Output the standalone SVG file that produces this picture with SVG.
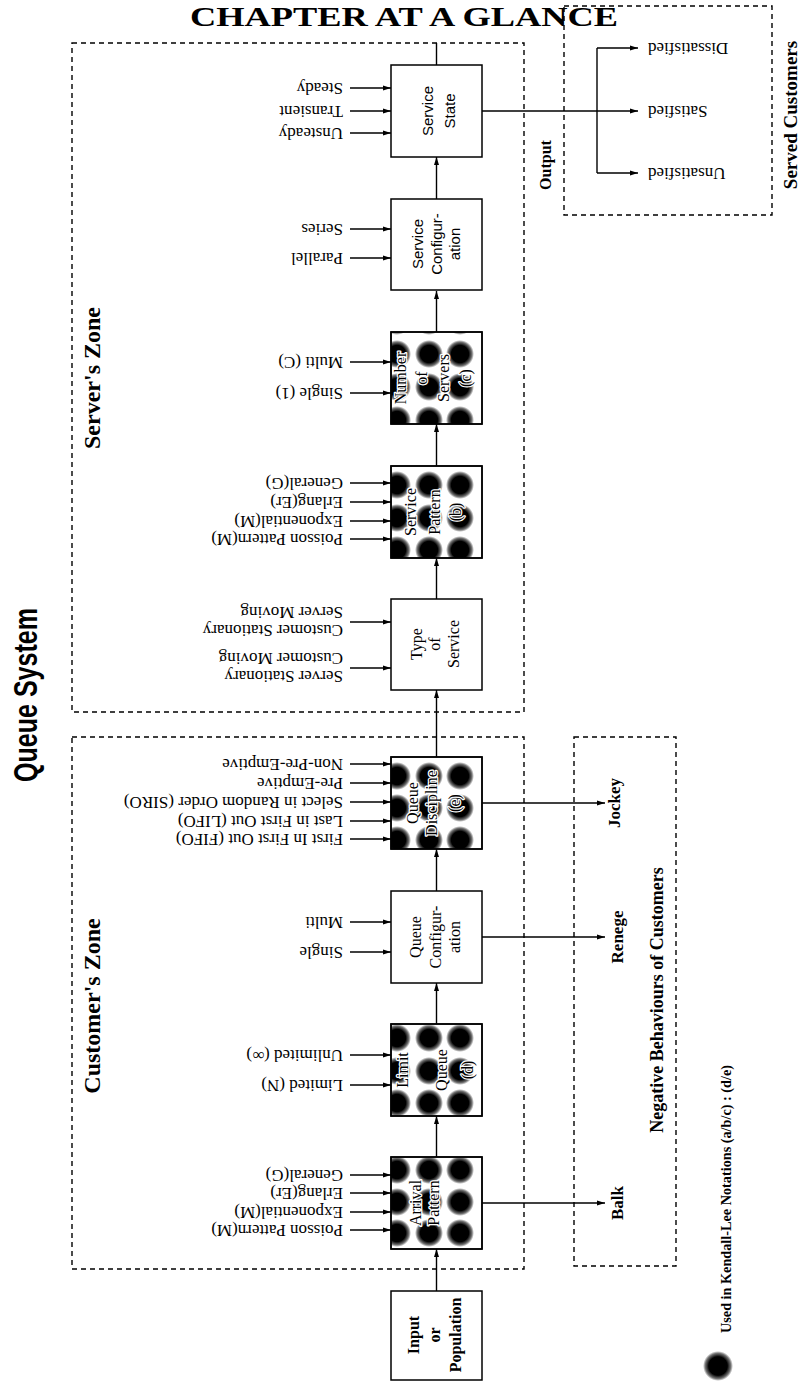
<svg xmlns="http://www.w3.org/2000/svg" width="800" height="1383" viewBox="0 0 800 1383">
<style>
.box{fill:#fff;stroke:#000;stroke-width:1.5}
.zone{fill:none;stroke:#000;stroke-width:1.4;stroke-dasharray:5,4}
.ln{fill:none;stroke:#000;stroke-width:1.4}
.arr{fill:none;stroke:#000;stroke-width:1.4;marker-end:url(#ah)}
.opt{font-family:"Liberation Serif",serif;font-size:17px;fill:#000;dominant-baseline:central}
.nl{font-family:"Liberation Serif",serif;font-size:16px;fill:#000;text-anchor:middle}
.nls{font-family:"Liberation Sans",Arial,sans-serif;font-size:15px;fill:#000;text-anchor:middle}
.nlb{font-family:"Liberation Serif",serif;font-size:16px;font-weight:bold;fill:#000;text-anchor:middle}
.halo{stroke:#fff;stroke-width:2.5;paint-order:stroke;stroke-linejoin:round}
.zt{font-family:"Liberation Serif",serif;font-size:24px;font-weight:bold;fill:#000;text-anchor:middle}
.bt{font-family:"Liberation Serif",serif;font-size:17px;font-weight:bold;fill:#000;text-anchor:middle}
.blob{fill:url(#blob)}
</style>
<defs>
<marker id="ah" markerWidth="8" markerHeight="6" refX="8" refY="3" orient="auto" markerUnits="userSpaceOnUse"><path d="M0,0.5 L8,3 L0,5.5 Z" fill="#000"/></marker>
<radialGradient id="blob"><stop offset="0" stop-color="#000"/><stop offset="0.62" stop-color="#000"/><stop offset="0.85" stop-color="#000" stop-opacity="0.55"/><stop offset="1" stop-color="#000" stop-opacity="0"/></radialGradient>
<clipPath id="cp-arr"><rect x="391" y="1157" width="91" height="92"/></clipPath>
<clipPath id="cp-lq"><rect x="391" y="1024" width="91" height="92"/></clipPath>
<clipPath id="cp-qd"><rect x="391" y="757" width="91" height="92"/></clipPath>
<clipPath id="cp-sp"><rect x="391" y="466" width="91" height="92"/></clipPath>
<clipPath id="cp-ns"><rect x="391" y="332" width="91" height="92"/></clipPath>
</defs>
<rect width="800" height="1383" fill="#fff"/>

<!-- title -->
<text x="190" y="26" font-family="Liberation Serif,serif" font-size="28" font-weight="bold" textLength="428" lengthAdjust="spacingAndGlyphs">CHAPTER AT A GLANCE</text>
<text transform="translate(37,695) rotate(-90)" font-family="Liberation Sans,Arial,sans-serif" font-size="33" font-weight="bold" text-anchor="middle" textLength="174" lengthAdjust="spacingAndGlyphs">Queue System</text>

<!-- zones -->
<g id="zone-server"><rect class="zone" x="72" y="43" width="452" height="669"/><text class="zt" transform="translate(100,378) rotate(-90)">Server's Zone</text></g>
<g id="zone-customer"><rect class="zone" x="72" y="737" width="452" height="532"/><text class="zt" transform="translate(100,1006) rotate(-90)">Customer's Zone</text></g>
<g id="zone-negative"><rect class="zone" x="574" y="737" width="102" height="529"/><text transform="translate(663,1000) rotate(-90)" font-family="Liberation Serif,serif" font-size="18" font-weight="bold" text-anchor="middle">Negative Behaviours of Customers</text></g>
<g id="zone-served"><rect class="zone" x="564" y="6" width="208" height="209"/><text transform="translate(797,115) rotate(-90)" font-family="Liberation Serif,serif" font-size="19" font-weight="bold" text-anchor="middle">Served Customers</text></g>
<text transform="translate(551,165) rotate(-90)" font-family="Liberation Serif,serif" font-size="16" font-weight="bold" text-anchor="middle">Output</text>

<!-- connectors -->
<g id="connectors">
<line class="arr" x1="436.5" y1="1291" x2="436.5" y2="1249"/>
<line class="arr" x1="436.5" y1="1157" x2="436.5" y2="1116"/>
<line class="arr" x1="436.5" y1="1024" x2="436.5" y2="983"/>
<line class="arr" x1="436.5" y1="891" x2="436.5" y2="849"/>
<line class="arr" x1="436.5" y1="757" x2="436.5" y2="690"/>
<line class="arr" x1="436.5" y1="599" x2="436.5" y2="558"/>
<line class="arr" x1="436.5" y1="466" x2="436.5" y2="424"/>
<line class="arr" x1="436.5" y1="332" x2="436.5" y2="291"/>
<line class="arr" x1="436.5" y1="199" x2="436.5" y2="157"/>
<line class="ln" x1="436.5" y1="65" x2="436.5" y2="43"/>
<line class="arr" x1="350" y1="88" x2="391" y2="88"/>
<line class="arr" x1="350" y1="111" x2="391" y2="111"/>
<line class="arr" x1="350" y1="133" x2="391" y2="133"/>
<line class="arr" x1="350" y1="229" x2="391" y2="229"/>
<line class="arr" x1="350" y1="258" x2="391" y2="258"/>
<line class="arr" x1="350" y1="362" x2="391" y2="362"/>
<line class="arr" x1="350" y1="393" x2="391" y2="393"/>
<line class="arr" x1="350" y1="483" x2="391" y2="483"/>
<line class="arr" x1="350" y1="502" x2="391" y2="502"/>
<line class="arr" x1="350" y1="521" x2="391" y2="521"/>
<line class="arr" x1="350" y1="539" x2="391" y2="539"/>
<line class="arr" x1="350" y1="622" x2="391" y2="622"/>
<line class="arr" x1="350" y1="668" x2="391" y2="668"/>
<line class="arr" x1="350" y1="764" x2="391" y2="764"/>
<line class="arr" x1="350" y1="783" x2="391" y2="783"/>
<line class="arr" x1="350" y1="802" x2="391" y2="802"/>
<line class="arr" x1="350" y1="821" x2="391" y2="821"/>
<line class="arr" x1="350" y1="839" x2="391" y2="839"/>
<line class="arr" x1="350" y1="922" x2="391" y2="922"/>
<line class="arr" x1="350" y1="952" x2="391" y2="952"/>
<line class="arr" x1="350" y1="1055" x2="391" y2="1055"/>
<line class="arr" x1="350" y1="1085" x2="391" y2="1085"/>
<line class="arr" x1="350" y1="1175" x2="391" y2="1175"/>
<line class="arr" x1="350" y1="1193" x2="391" y2="1193"/>
<line class="arr" x1="350" y1="1212" x2="391" y2="1212"/>
<line class="arr" x1="350" y1="1230" x2="391" y2="1230"/>
<line class="arr" x1="482" y1="1203" x2="605" y2="1203"/>
<line class="arr" x1="482" y1="937" x2="605" y2="937"/>
<line class="arr" x1="482" y1="803" x2="605" y2="803"/>
<line class="ln" x1="482" y1="111" x2="597" y2="111"/>
<line class="ln" x1="597" y1="48" x2="597" y2="173"/>
<line class="arr" x1="597" y1="48" x2="638" y2="48"/>
<line class="arr" x1="597" y1="111" x2="638" y2="111"/>
<line class="arr" x1="597" y1="173" x2="638" y2="173"/>
</g>

<!-- option labels (printed upside down) -->
<g id="options">
<text class="opt" transform="translate(343,88) rotate(180)">Steady</text>
<text class="opt" transform="translate(343,111) rotate(180)">Transient</text>
<text class="opt" transform="translate(343,133) rotate(180)">Unsteady</text>
<text class="opt" transform="translate(343,229) rotate(180)">Series</text>
<text class="opt" transform="translate(343,258) rotate(180)">Parallel</text>
<text class="opt" transform="translate(343,362) rotate(180)">Multi (C)</text>
<text class="opt" transform="translate(343,393) rotate(180)">Single (1)</text>
<text class="opt" transform="translate(343,483) rotate(180)">General(G)</text>
<text class="opt" transform="translate(343,502) rotate(180)">Erlang(Er)</text>
<text class="opt" transform="translate(343,521) rotate(180)">Exponential(M)</text>
<text class="opt" transform="translate(343,539) rotate(180)">Poisson Pattern(M)</text>
<text class="opt" transform="translate(343,612) rotate(180)">Server Moving</text>
<text class="opt" transform="translate(343,630) rotate(180)">Customer Stationary</text>
<text class="opt" transform="translate(343,658) rotate(180)">Customer Moving</text>
<text class="opt" transform="translate(343,676) rotate(180)">Server Stationary</text>
<text class="opt" transform="translate(343,764) rotate(180)">Non-Pre-Emptive</text>
<text class="opt" transform="translate(343,783) rotate(180)">Pre-Emptive</text>
<text class="opt" transform="translate(343,802) rotate(180)">Select in Random Order (SIRO)</text>
<text class="opt" transform="translate(343,821) rotate(180)">Last in First Out (LIFO)</text>
<text class="opt" transform="translate(343,839) rotate(180)">First In First Out (FIFO)</text>
<text class="opt" transform="translate(343,922) rotate(180)">Multi</text>
<text class="opt" transform="translate(343,952) rotate(180)">Single</text>
<text class="opt" transform="translate(343,1055) rotate(180)">Unlimited (∞)</text>
<text class="opt" transform="translate(343,1085) rotate(180)">Limited (N)</text>
<text class="opt" transform="translate(343,1175) rotate(180)">General(G)</text>
<text class="opt" transform="translate(343,1193) rotate(180)">Erlang(Er)</text>
<text class="opt" transform="translate(343,1212) rotate(180)">Exponential(M)</text>
<text class="opt" transform="translate(343,1230) rotate(180)">Poisson Pattern(M)</text>
<text class="opt" transform="translate(648,48) rotate(180)" font-size="18" text-anchor="end">Dissatisfied</text>
<text class="opt" transform="translate(648,111) rotate(180)" font-size="18" text-anchor="end">Satisfied</text>
<text class="opt" transform="translate(648,173) rotate(180)" font-size="18" text-anchor="end">Unsatisfied</text>
</g>

<!-- nodes -->
<g id="n-input"><rect class="box" x="391" y="1291" width="91" height="89"/>
<text class="nlb" transform="translate(436.5,1335) rotate(-90)"><tspan x="0" y="-18">Input</tspan><tspan x="0" y="3">or</tspan><tspan x="0" y="24">Population</tspan></text></g>

<g id="n-arrival"><rect class="box" x="391" y="1157" width="91" height="92"/>
<g clip-path="url(#cp-arr)"><circle class="blob" cx="397" cy="1170" r="14"/><circle class="blob" cx="429" cy="1170" r="14"/><circle class="blob" cx="460" cy="1170" r="14"/><circle class="blob" cx="397" cy="1202" r="14"/><circle class="blob" cx="429" cy="1202" r="14"/><circle class="blob" cx="460" cy="1202" r="14"/><circle class="blob" cx="397" cy="1233" r="14"/><circle class="blob" cx="429" cy="1233" r="14"/><circle class="blob" cx="460" cy="1233" r="14"/></g>
<text class="nl halo" transform="translate(436.5,1203) rotate(-90)"><tspan x="0" y="-16">Arrival</tspan><tspan x="0" y="2">Pattern</tspan></text>
<rect x="391" y="1157" width="91" height="92" fill="none" stroke="#000" stroke-width="1.5"/></g>

<g id="n-limit"><rect class="box" x="391" y="1024" width="91" height="92"/>
<g clip-path="url(#cp-lq)"><circle class="blob" cx="397" cy="1038" r="14"/><circle class="blob" cx="429" cy="1038" r="14"/><circle class="blob" cx="460" cy="1038" r="14"/><circle class="blob" cx="397" cy="1071" r="14"/><circle class="blob" cx="429" cy="1071" r="14"/><circle class="blob" cx="460" cy="1071" r="14"/><circle class="blob" cx="397" cy="1103" r="14"/><circle class="blob" cx="429" cy="1103" r="14"/><circle class="blob" cx="460" cy="1103" r="14"/></g>
<text class="nl halo" transform="translate(436.5,1070) rotate(-90)"><tspan x="0" y="-29">Limit</tspan><tspan x="0" y="10">Queue</tspan><tspan x="0" y="36">(d)</tspan></text>
<rect x="391" y="1024" width="91" height="92" fill="none" stroke="#000" stroke-width="1.5"/></g>

<g id="n-qconf"><rect class="box" x="391" y="891" width="91" height="92"/>
<text class="nl" transform="translate(436.5,937) rotate(-90)"><tspan x="0" y="-16">Queue</tspan><tspan x="0" y="4">Configur-</tspan><tspan x="0" y="23">ation</tspan></text></g>

<g id="n-qdisc"><rect class="box" x="391" y="757" width="91" height="92"/>
<g clip-path="url(#cp-qd)"><circle class="blob" cx="397" cy="776" r="14"/><circle class="blob" cx="429" cy="776" r="14"/><circle class="blob" cx="460" cy="776" r="14"/><circle class="blob" cx="397" cy="808" r="14"/><circle class="blob" cx="429" cy="808" r="14"/><circle class="blob" cx="460" cy="808" r="14"/><circle class="blob" cx="397" cy="840" r="14"/><circle class="blob" cx="429" cy="840" r="14"/><circle class="blob" cx="460" cy="840" r="14"/></g>
<text class="nl halo" transform="translate(436.5,803) rotate(-90)"><tspan x="0" y="-19">Queue</tspan><tspan x="0" y="0">Discipline</tspan><tspan x="0" y="23">(e)</tspan></text>
<rect x="391" y="757" width="91" height="92" fill="none" stroke="#000" stroke-width="1.5"/></g>

<g id="n-type"><rect class="box" x="391" y="599" width="91" height="91"/>
<text class="nl" transform="translate(436.5,644) rotate(-90)"><tspan x="0" y="-15">Type</tspan><tspan x="0" y="3">of</tspan><tspan x="0" y="22">Service</tspan></text></g>

<g id="n-spattern"><rect class="box" x="391" y="466" width="91" height="92"/>
<g clip-path="url(#cp-sp)"><circle class="blob" cx="397" cy="485" r="14"/><circle class="blob" cx="429" cy="485" r="14"/><circle class="blob" cx="460" cy="485" r="14"/><circle class="blob" cx="397" cy="518" r="14"/><circle class="blob" cx="429" cy="518" r="14"/><circle class="blob" cx="460" cy="518" r="14"/><circle class="blob" cx="397" cy="550" r="14"/><circle class="blob" cx="429" cy="550" r="14"/><circle class="blob" cx="460" cy="550" r="14"/></g>
<text class="nl halo" transform="translate(436.5,512) rotate(-90)"><tspan x="0" y="-21">Service</tspan><tspan x="0" y="3">Pattern</tspan><tspan x="0" y="24">(b)</tspan></text>
<rect x="391" y="466" width="91" height="92" fill="none" stroke="#000" stroke-width="1.5"/></g>

<g id="n-nservers"><rect class="box" x="391" y="332" width="91" height="92"/>
<g clip-path="url(#cp-ns)"><circle class="blob" cx="397" cy="321" r="14"/><circle class="blob" cx="429" cy="321" r="14"/><circle class="blob" cx="460" cy="321" r="14"/><circle class="blob" cx="397" cy="354" r="14"/><circle class="blob" cx="429" cy="354" r="14"/><circle class="blob" cx="460" cy="354" r="14"/><circle class="blob" cx="397" cy="387" r="14"/><circle class="blob" cx="429" cy="387" r="14"/><circle class="blob" cx="460" cy="387" r="14"/><circle class="blob" cx="397" cy="420" r="14"/><circle class="blob" cx="429" cy="420" r="14"/><circle class="blob" cx="460" cy="420" r="14"/></g>
<text class="nl halo" transform="translate(436.5,378) rotate(-90)"><tspan x="0" y="-31">Number</tspan><tspan x="0" y="-10">of</tspan><tspan x="0" y="12">Servers</tspan><tspan x="0" y="34">(c)</tspan></text>
<rect x="391" y="332" width="91" height="92" fill="none" stroke="#000" stroke-width="1.5"/></g>

<g id="n-sconf"><rect class="box" x="391" y="199" width="91" height="91"/>
<text class="nls" transform="translate(436.5,244) rotate(-90)"><tspan x="0" y="-14">Service</tspan><tspan x="0" y="5">Configur-</tspan><tspan x="0" y="23">ation</tspan></text></g>

<g id="n-sstate"><rect class="box" x="391" y="65" width="91" height="92"/>
<text class="nls" transform="translate(436.5,111) rotate(-90)"><tspan x="0" y="-4">Service</tspan><tspan x="0" y="18">State</tspan></text></g>

<g id="n-balk"><text class="bt" transform="translate(623,1203) rotate(-90)">Balk</text></g>
<g id="n-renege"><text class="bt" transform="translate(623,937) rotate(-90)">Renege</text></g>
<g id="n-jockey"><text class="bt" transform="translate(620,803) rotate(-90)">Jockey</text></g>

<g id="legend">
<circle class="blob" cx="718" cy="1366" r="15"/>
<text transform="translate(731,1199) rotate(-90)" font-family="Liberation Serif,serif" font-size="14" font-weight="bold" text-anchor="middle" textLength="268" lengthAdjust="spacingAndGlyphs">Used in Kendall-Lee Notations (a/b/c) : (d/e)</text>
</g>
</svg>
